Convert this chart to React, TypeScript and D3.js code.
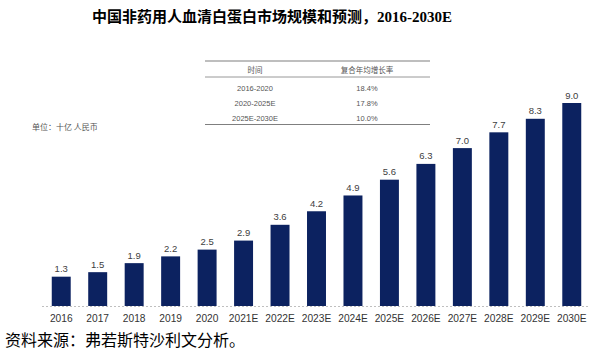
import React, { useEffect, useRef } from 'react';
import * as d3 from 'd3';

const years = ['2016', '2017', '2018', '2019', '2020', '2021E', '2022E', '2023E', '2024E', '2025E', '2026E', '2027E', '2028E', '2029E', '2030E'];
const marketSize = [1.3, 1.5, 1.9, 2.2, 2.5, 2.9, 3.6, 4.2, 4.9, 5.6, 6.3, 7.0, 7.7, 8.3, 9.0];

const cagrPeriods = ['2016-2020', '2020-2025E', '2025E-2030E'];
const cagrValues = ['18.4%', '17.8%', '10.0%'];

const W = 594;
const H = 360;

export default function App() {
  const svgRef = useRef<SVGSVGElement>(null);

  useEffect(() => {
    if (!svgRef.current) return;

    // Clear previous content
    d3.select(svgRef.current).selectAll('*').remove();

    const svg = d3.select(svgRef.current)
      .attr('width', W)
      .attr('height', H);

    svg.append('rect').attr('width', W).attr('height', H).attr('fill', '#fff');

    // Title
    const title = svg.append('text')
      .attr('x', 272)
      .attr('y', 22)
      .attr('text-anchor', 'middle')
      .attr('font-size', 15)
      .attr('font-weight', 'bold')
      .attr('fill', '#000');
    title.append('tspan')
      .attr('font-family', '"Noto Sans CJK SC", sans-serif')
      .text('中国非药用人血清白蛋白市场规模和预测，');
    title.append('tspan')
      .attr('font-family', '"Liberation Serif", serif')
      .text('2016-2030E');

    // Scales
    const x = d3.scaleBand<string>()
      .domain(years)
      .range([43, 590])
      .paddingInner(0.48)
      .paddingOuter(0.24);

    const y = d3.scaleLinear()
      .domain([0, 9])
      .range([306, 103]);

    // Bars
    svg.append('g')
      .selectAll('rect')
      .data(marketSize)
      .join('rect')
      .attr('x', (_, i) => x(years[i])!)
      .attr('y', d => y(d))
      .attr('width', x.bandwidth())
      .attr('height', d => y(0) - y(d))
      .attr('fill', '#0c2260');

    // Value labels
    svg.append('g')
      .selectAll('text')
      .data(marketSize)
      .join('text')
      .attr('x', (_, i) => x(years[i])! + x.bandwidth() / 2)
      .attr('y', d => y(d) - 4.5)
      .attr('text-anchor', 'middle')
      .attr('font-family', '"Liberation Sans", Arial, sans-serif')
      .attr('font-size', 9.5)
      .attr('fill', '#404040')
      .text(d => d.toFixed(1));

    // Dotted baseline
    svg.append('line')
      .attr('x1', 42)
      .attr('x2', 590)
      .attr('y1', y(0) + 0.5)
      .attr('y2', y(0) + 0.5)
      .attr('stroke', '#bfbfbf')
      .attr('stroke-width', 1)
      .attr('stroke-dasharray', '2,2');

    // X axis labels
    const xAxis = d3.axisBottom(x).tickSize(0).tickPadding(9);
    const gx = svg.append('g')
      .attr('transform', `translate(0,${y(0)})`)
      .call(xAxis);
    gx.select('.domain').remove();
    gx.selectAll('text')
      .attr('font-family', '"Liberation Sans", Arial, sans-serif')
      .attr('font-size', 10.2)
      .attr('fill', '#333');

    // Unit label
    svg.append('text')
      .attr('x', 32)
      .attr('y', 130)
      .attr('font-family', '"Noto Sans CJK SC", sans-serif')
      .attr('font-size', 8)
      .attr('fill', '#555')
      .text('单位：十亿 人民币');

    // CAGR table
    const tLeft = 205;
    const tRight = 430;
    const col1 = 255;
    const col2 = 367;
    const tableFont = '"Noto Sans CJK SC", sans-serif';
    const table = svg.append('g');

    table.append('line')
      .attr('x1', tLeft).attr('x2', tRight)
      .attr('y1', 61).attr('y2', 61)
      .attr('stroke', '#7f7f7f').attr('stroke-width', 1.2);
    table.append('line')
      .attr('x1', tLeft).attr('x2', tRight)
      .attr('y1', 77).attr('y2', 77)
      .attr('stroke', '#7f7f7f').attr('stroke-width', 0.8);
    table.append('line')
      .attr('x1', tLeft).attr('x2', tRight)
      .attr('y1', 124.5).attr('y2', 124.5)
      .attr('stroke', '#7f7f7f').attr('stroke-width', 1.2);

    table.append('text')
      .attr('x', col1).attr('y', 72.5)
      .attr('text-anchor', 'middle')
      .attr('font-family', tableFont).attr('font-size', 7.5)
      .attr('fill', '#555')
      .text('时间');
    table.append('text')
      .attr('x', col2).attr('y', 72.5)
      .attr('text-anchor', 'middle')
      .attr('font-family', tableFont).attr('font-size', 7.5)
      .attr('fill', '#555')
      .text('复合年均增长率');

    table.selectAll('text.period')
      .data(cagrPeriods)
      .join('text')
      .attr('class', 'period')
      .attr('x', col1)
      .attr('y', (_, i) => 91 + i * 14.8)
      .attr('text-anchor', 'middle')
      .attr('font-family', '"Liberation Sans", Arial, sans-serif')
      .attr('font-size', 7.5)
      .attr('fill', '#555')
      .text(d => d);

    table.selectAll('text.cagr')
      .data(cagrValues)
      .join('text')
      .attr('class', 'cagr')
      .attr('x', col2)
      .attr('y', (_, i) => 91 + i * 14.8)
      .attr('text-anchor', 'middle')
      .attr('font-family', '"Liberation Sans", Arial, sans-serif')
      .attr('font-size', 7.5)
      .attr('fill', '#555')
      .text(d => d);

    // Source
    svg.append('text')
      .attr('x', 5)
      .attr('y', 346)
      .attr('font-family', '"Noto Sans CJK SC", sans-serif')
      .attr('font-size', 16)
      .attr('fill', '#000')
      .text('资料来源：弗若斯特沙利文分析。');
  }, []);

  return (
    <svg ref={svgRef} style={{ position: 'absolute', left: 0, top: 0 }} />
  );
}
